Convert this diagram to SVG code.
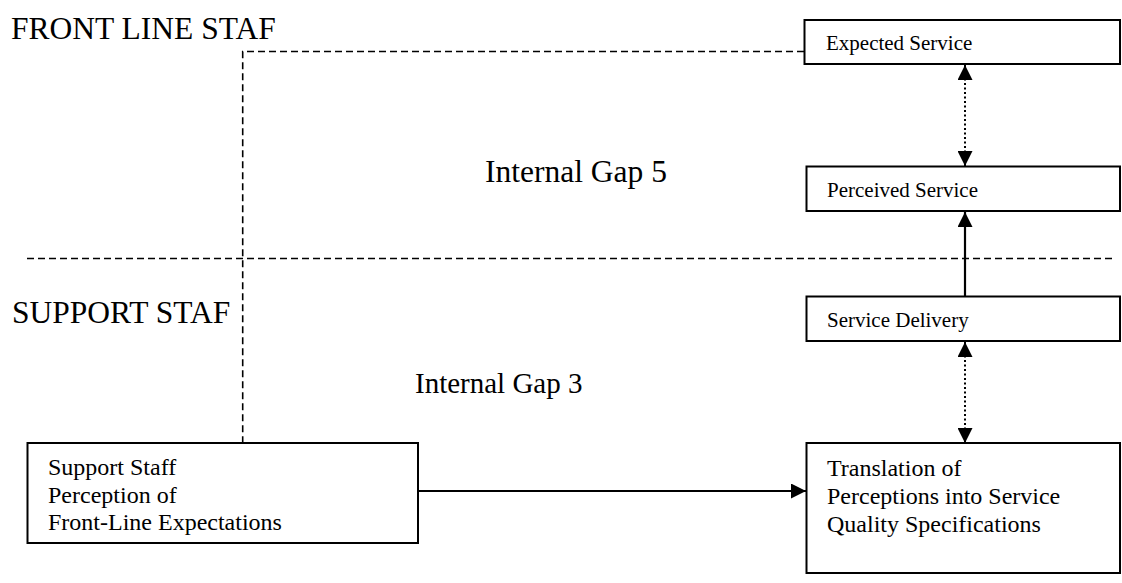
<svg xmlns="http://www.w3.org/2000/svg" width="1122" height="583" viewBox="0 0 1122 583">
  <style>
    .box { fill: #fff; stroke: #000; stroke-width: 2; }
    .lbl { font-family: "Liberation Serif", "Times New Roman", serif; fill: #000; }
    .small { font-size: 21px; }
    .body { font-size: 24px; }
    .dash { fill: none; stroke: #000; stroke-width: 1.6; stroke-dasharray: 7 4; }
    .dot { fill: none; stroke: #000; stroke-width: 2; stroke-dasharray: 2 2.5; }
    .solid { fill: none; stroke: #000; stroke-width: 2.2; }
  </style>
  <defs>
    <marker id="head" viewBox="0 0 15 15" markerWidth="15" markerHeight="15" refX="15" refY="7.5" orient="auto-start-reverse" markerUnits="userSpaceOnUse">
      <path d="M0,0 L15,7.5 L0,15 z" fill="#000"/>
    </marker>
  </defs>
  <rect width="1122" height="583" fill="#fff"/>

  <!-- region labels -->
  <g id="zones">
    <text class="lbl" x="11" y="39" font-size="31.5">FRONT LINE STAF</text>
    <text class="lbl" x="12" y="323" font-size="31.5">SUPPORT STAF</text>
    <text class="lbl" x="485" y="182" font-size="31.5">Internal Gap 5</text>
    <text class="lbl" x="415" y="393" font-size="29">Internal Gap 3</text>
  </g>

  <!-- connectors -->
  <g id="connectors">
    <path class="dash" d="M804,51.5 L242.7,51.5 L242.7,443"/>
    <line class="dash" x1="27" y1="258.5" x2="1114" y2="258.5"/>
    <line class="dot" x1="965" y1="65" x2="965" y2="166" marker-start="url(#head)" marker-end="url(#head)"/>
    <line class="solid" x1="965" y1="296" x2="965" y2="212" marker-end="url(#head)"/>
    <line class="dot" x1="965" y1="342" x2="965" y2="443" marker-start="url(#head)" marker-end="url(#head)"/>
    <line class="solid" x1="418" y1="491" x2="806" y2="491" marker-end="url(#head)"/>
  </g>

  <g id="expected">
    <rect class="box" x="804.5" y="20" width="315.5" height="44"/>
    <text class="lbl small" x="826" y="50">Expected Service</text>
  </g>

  <g id="perceived">
    <rect class="box" x="806.5" y="166.5" width="313.5" height="44.5"/>
    <text class="lbl small" x="827" y="197">Perceived Service</text>
  </g>

  <g id="delivery">
    <rect class="box" x="806.5" y="296.5" width="313.5" height="44.5"/>
    <text class="lbl small" x="827" y="327">Service Delivery</text>
  </g>

  <g id="translation">
    <rect class="box" x="806.5" y="443" width="313.5" height="130"/>
    <text class="lbl body" x="827" y="476">Translation of</text>
    <text class="lbl body" x="827" y="504">Perceptions into Service</text>
    <text class="lbl body" x="827" y="532">Quality Specifications</text>
  </g>

  <g id="support">
    <rect class="box" x="27.5" y="443" width="390.5" height="100"/>
    <text class="lbl body" x="48" y="475">Support Staff</text>
    <text class="lbl body" x="48" y="503">Perception of</text>
    <text class="lbl body" x="48" y="530">Front-Line Expectations</text>
  </g>
</svg>
